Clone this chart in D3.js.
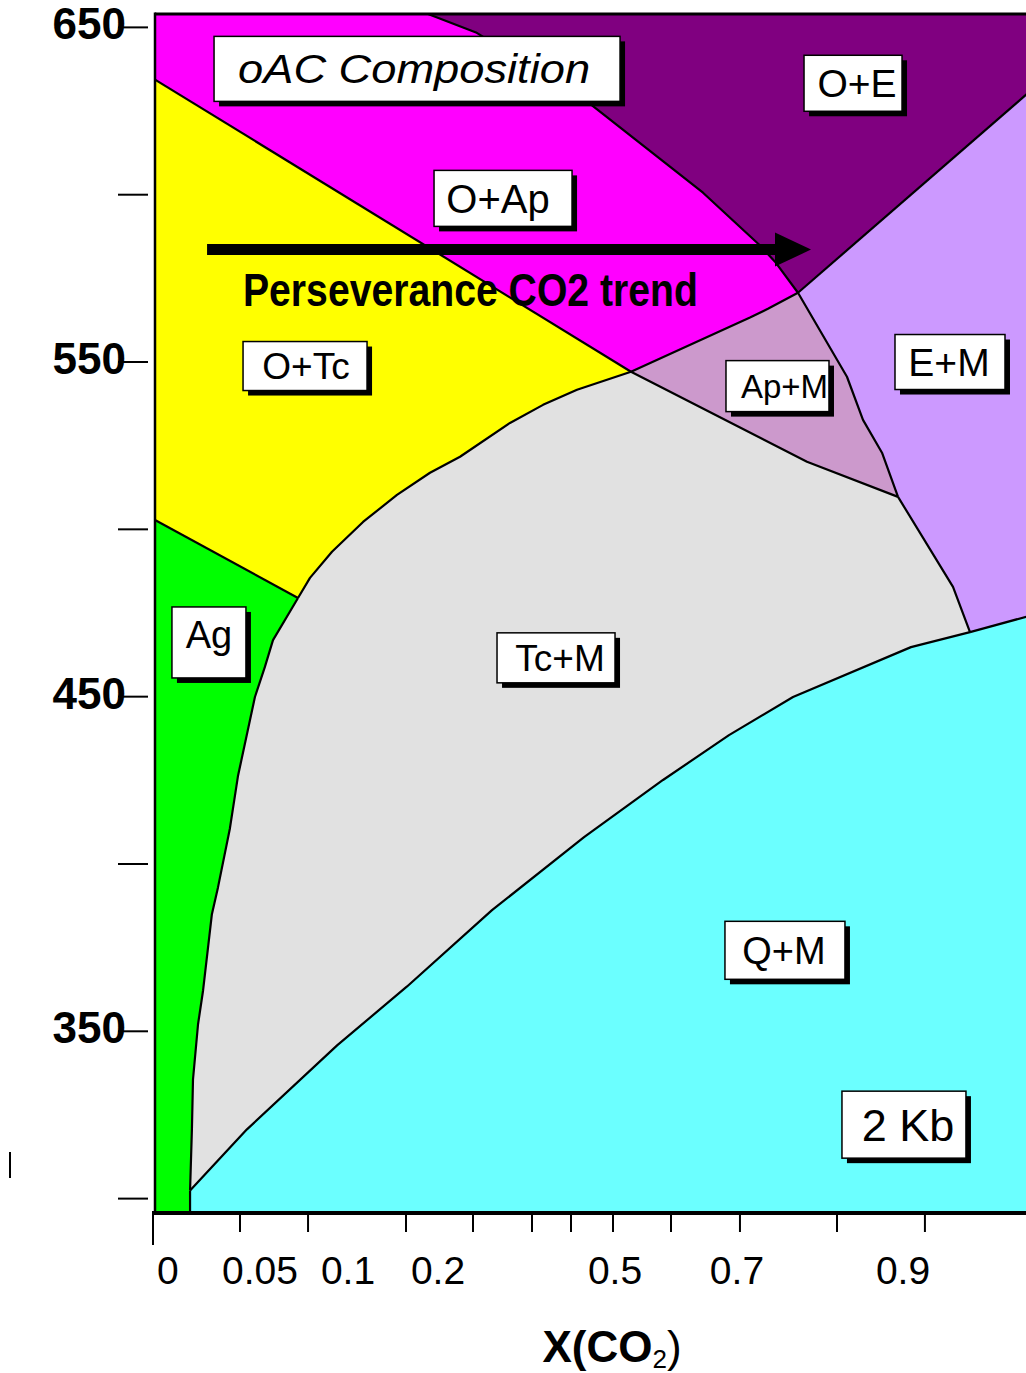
<!DOCTYPE html>
<html><head><meta charset="utf-8">
<script src="https://cdn.jsdelivr.net/npm/d3@7"></script>
<style>
html,body{margin:0;padding:0;background:#fff;}
svg{display:block;}
text{font-family:"Liberation Sans",Arial,Helvetica,sans-serif;}
</style>
</head><body>
<svg id="chart" width="1026" height="1373"></svg>
<script>
// ---------------- DATA ----------------
// X(CO2) axis is drawn non-linearly: these are the axis stop values
const xAxisValues = [0, 0.05, 0.1, 0.2, 0.5, 0.7, 0.9, 1.0];
const xAxisStopFrac = [0, 0.1186, 0.2181, 0.3198, 0.5198, 0.6576, 0.8452, 1];
const xTickLabels = ["0", "0.05", "0.1", "0.2", "0.5", "0.7", "0.9"];
const xTickLabelValues = [0, 0.05, 0.1, 0.2, 0.5, 0.7, 0.9];
const xTickMarks = [0, 0.0405, 0.0773, 0.1644, 0.2593, 0.3593, 0.4254, 0.4966, 0.5918, 0.7036, 0.8205, 0.916];
const yMajorTicks = [650, 550, 450, 350];
const yMinorTicks = [600, 500, 400, 300];
const tempRange = [296, 654];   // °C
const T_TOP = 654, T_BOT = 296;

// phase boundaries: [X(CO2), T °C]
const bndMagYel  = [[0, 634.4], [0.5262, 547.1]];
const bndOApOE   = [[0.1889, 654], [0.2644, 648.5], [0.4610, 626.7], [0.6443, 600.6], [0.7265, 585.1], [0.7458, 580.0], [0.7735, 570.7]];
const bndOEEM    = [[0.7735, 570.7], [1.0, 633.5]];
const bndOApApM  = [[0.7735, 570.7], [0.7373, 565.9], [0.7157, 563.3], [0.5262, 547.1]];
const bndApMEM   = [[0.7735, 570.7], [0.8325, 545.6], [0.8518, 532.7], [0.8747, 522.9], [0.8940, 509.7]];
const bndApMTcM  = [[0.5262, 547.1], [0.7843, 520.2], [0.8940, 509.7]];
const bndTcMEM   = [[0.8940, 509.7], [0.9365, 482.8], [0.9489, 469.3]];
const bndEMQM    = [[0.9489, 469.3], [1.0, 475.0]];
const bndTcMQM   = [[0.9489, 469.3], [0.9058, 464.8], [0.7675, 449.9], [0.6869, 438.5], [0.5787, 425.1], [0.4475, 408.0], [0.2915, 386.2], [0.1656, 363.4], [0.0938, 345.8], [0.0438, 320.7], [0.0167, 302.4]];
const bndAgTcM   = [[0.0167, 302.4], [0.0176, 321.0], [0.0181, 335.6], [0.0205, 352.1], [0.0229, 362.2], [0.0271, 385.0], [0.0300, 393.0], [0.0357, 410.7], [0.0395, 426.2], [0.0476, 449.9], [0.0528, 458.9], [0.0574, 466.9], [0.0716, 479.5]];
const bndYelTcM  = [[0.0716, 479.5], [0.0784, 485.5], [0.0909, 493.3], [0.1167, 502.2], [0.1544, 510.3], [0.1911, 516.9], [0.2373, 521.7], [0.3220, 531.8], [0.3780, 537.2], [0.4356, 541.7], [0.5262, 547.1]];
const bndAgYel   = [[0, 502.8], [0.0716, 479.5]];
const bndAgQM    = [[0.0167, 302.4], [0.0167, 296]];

const regionNames  = ["O+Ap", "O+E", "E+M", "Ap+M", "O+Tc", "Ag", "Tc+M", "Q+M"];
const regionColors = ["#FF00FF", "#800080", "#CC99FF", "#CC99CC", "#FFFF00", "#00FF00", "#E1E1E1", "#6BFFFF"];

// annotations
const labelTexts = ["oAC Composition", "O+E", "O+Ap", "E+M", "Ap+M", "O+Tc", "Ag", "Tc+M", "Q+M", "2 Kb"];
const labelX = [0.1767, 0.8398, 0.3102, 0.9343, 0.7488, 0.0756, 0.0257, 0.4, 0.7578, 0.9007];
const labelT = [637.6, 633.3, 598.9, 550.0, 542.8, 548.8, 466.2, 461.6, 374.2, 322.1];
const trendText = "Perseverance CO2 trend";
const trendArrow = {fromX: 0.0248, headX: 0.7458, toX: 0.7892, temp: 583.6};
const trendTextPos = {x: 0.0419, t: 566.6};

// ---------------- LAYOUT ----------------
const plotLeft = 155, plotW = 885, plotTop = 14, plotBottom = 1212, svgW = 1026;
const labelStyle = [
  {w: 406, h: 65, fs: 40, dx: -3, dy: 0, italic: true, len: 352},
  {w: 98,  h: 56, fs: 39, dx: 4,  dy: 0},
  {w: 138, h: 56, fs: 40, dx: -5, dy: 0},
  {w: 110, h: 55, fs: 39, dx: -1, dy: 0},
  {w: 103, h: 51, fs: 33, dx: 7,  dy: 0},
  {w: 124, h: 49, fs: 37, dx: 1,  dy: 0},
  {w: 74,  h: 71, fs: 38, dx: 0,  dy: -8},
  {w: 118, h: 50, fs: 37, dx: 4,  dy: 0},
  {w: 120, h: 58, fs: 38, dx: -1, dy: 0},
  {w: 124, h: 67, fs: 45, dx: 4,  dy: 0}
];

const svg = d3.select("#chart");
const x = d3.scaleLinear().domain(xAxisValues).range(xAxisStopFrac.map(f => plotLeft + f * plotW));
const y = d3.scaleLinear().domain(tempRange).range([plotBottom, plotTop]);

const rev = a => a.slice().reverse();
const regions = [
  [[0, T_TOP], ...bndOApOE, ...bndOApApM.slice(1), ...rev(bndMagYel).slice(1)],
  [...bndOApOE, ...bndOEEM.slice(1), [1, T_TOP]],
  [...bndOEEM, ...rev(bndEMQM), ...rev(bndTcMEM).slice(1), ...rev(bndApMEM).slice(1)],
  [...bndApMEM, ...rev(bndApMTcM).slice(1), ...rev(bndOApApM).slice(1)],
  [...bndMagYel, ...rev(bndYelTcM).slice(1), ...rev(bndAgYel).slice(1)],
  [...bndAgYel, ...rev(bndAgTcM).slice(1), [0.0167, T_BOT], [0, T_BOT]],
  [...bndApMTcM, ...bndTcMEM.slice(1), ...bndTcMQM.slice(1), ...bndAgTcM.slice(1), ...bndYelTcM.slice(1)],
  [...rev(bndTcMQM), ...bndEMQM.slice(1), [1, T_BOT], [0.0167, T_BOT]]
];

const line = d3.line().x(d => x(d[0])).y(d => y(d[1]));

svg.append("g").selectAll("path").data(regions).join("path")
  .attr("d", d => line(d) + "Z")
  .attr("fill", (d, i) => regionColors[i])
  .attr("stroke", (d, i) => regionColors[i]).attr("stroke-width", 0.5);

const boundaries = [bndMagYel, bndOApOE, bndOEEM, bndOApApM, bndApMEM, bndApMTcM, bndTcMEM, bndEMQM, bndTcMQM, bndAgTcM, bndYelTcM, bndAgYel, bndAgQM];
svg.append("g").selectAll("path").data(boundaries).join("path")
  .attr("d", line).attr("fill", "none").attr("stroke", "#000")
  .attr("stroke-width", 2.2).attr("stroke-linejoin", "round");

// trend arrow
const ay = y(trendArrow.temp);
svg.append("line").attr("x1", x(trendArrow.fromX)).attr("x2", x(trendArrow.headX) + 1)
  .attr("y1", ay).attr("y2", ay).attr("stroke", "#000").attr("stroke-width", 11);
svg.append("path")
  .attr("d", `M${x(trendArrow.headX)},${ay - 17}L${x(trendArrow.toX)},${ay}L${x(trendArrow.headX)},${ay + 17}Z`)
  .attr("fill", "#000");

svg.append("text").attr("x", x(trendTextPos.x)).attr("y", y(trendTextPos.t))
  .attr("font-family", "'Liberation Sans Narrow','Arial Narrow','Liberation Sans',sans-serif")
  .attr("font-weight", "bold").attr("font-size", 47)
  .attr("textLength", 455).attr("lengthAdjust", "spacingAndGlyphs")
  .text(trendText);

// labels
const lg = svg.append("g");
labelTexts.forEach((t, i) => {
  const s = labelStyle[i];
  const cx = x(labelX[i]), cy = y(labelT[i]);
  lg.append("rect").attr("x", cx - s.w / 2 + 5).attr("y", cy - s.h / 2 + 5)
    .attr("width", s.w).attr("height", s.h).attr("fill", "#000");
  lg.append("rect").attr("x", cx - s.w / 2).attr("y", cy - s.h / 2)
    .attr("width", s.w).attr("height", s.h).attr("fill", "#fff")
    .attr("stroke", "#000").attr("stroke-width", 1.5);
  const tx = lg.append("text").attr("x", cx + s.dx).attr("y", cy + 0.358 * s.fs + s.dy)
    .attr("text-anchor", "middle").attr("font-size", s.fs)
    .attr("font-style", s.italic ? "italic" : "normal").attr("fill", "#000")
    .text(t);
  if (s.len) tx.attr("textLength", s.len).attr("lengthAdjust", "spacingAndGlyphs");
});

// frame
svg.append("line").attr("x1", plotLeft).attr("x2", svgW).attr("y1", plotTop).attr("y2", plotTop)
  .attr("stroke", "#000").attr("stroke-width", 3);
svg.append("line").attr("x1", plotLeft).attr("x2", plotLeft).attr("y1", plotTop - 1.5).attr("y2", plotBottom)
  .attr("stroke", "#000").attr("stroke-width", 2.5);
svg.append("line").attr("x1", plotLeft - 3).attr("x2", svgW).attr("y1", plotBottom + 1).attr("y2", plotBottom + 1)
  .attr("stroke", "#000").attr("stroke-width", 4);

// x ticks
svg.append("g").selectAll("line").data(xTickMarks).join("line")
  .attr("x1", d => x(d) - (d === 0 ? 2 : 0)).attr("x2", d => x(d) - (d === 0 ? 2 : 0))
  .attr("y1", plotBottom + 2).attr("y2", (d, i) => i === 0 ? plotBottom + 33 : plotBottom + 20)
  .attr("stroke", "#000").attr("stroke-width", 2);
svg.append("g").selectAll("text").data(xTickLabelValues).join("text")
  .attr("x", (d, i) => i === 0 ? x(d) + 2 : x(d))
  .attr("y", plotBottom + 72)
  .attr("text-anchor", (d, i) => i === 0 ? "start" : "middle")
  .attr("font-size", 39)
  .text((d, i) => xTickLabels[i]);

// y ticks
svg.append("g").selectAll("line").data(yMajorTicks.concat(yMinorTicks)).join("line")
  .attr("x1", 118).attr("x2", 148)
  .attr("y1", d => y(d)).attr("y2", d => y(d))
  .attr("stroke", "#000").attr("stroke-width", 2);
svg.append("g").selectAll("text").data(yMajorTicks).join("text")
  .attr("x", 126).attr("y", d => y(d) + 12)
  .attr("text-anchor", "end").attr("font-weight", "bold").attr("font-size", 44)
  .text(d => d);

// x-axis title
const title = svg.append("text").attr("x", x(0.5) - 3).attr("y", 1362)
  .attr("text-anchor", "middle").attr("font-size", 44);
title.append("tspan").attr("font-weight", "bold").text("X(CO");
title.append("tspan").attr("font-size", 26).attr("dy", 6).text("2");
title.append("tspan").attr("dy", -6).text(")");

// stray mark at lower left
svg.append("line").attr("x1", 10).attr("x2", 10).attr("y1", 1152).attr("y2", 1178)
  .attr("stroke", "#000").attr("stroke-width", 2);
</script>
</body></html>
